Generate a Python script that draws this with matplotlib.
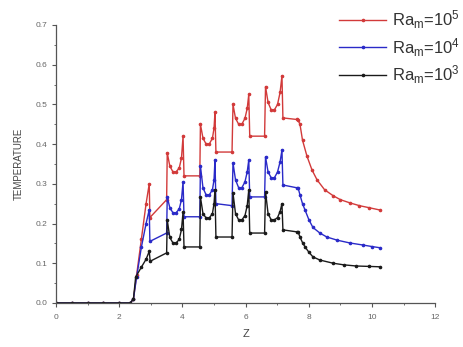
import numpy as np
import matplotlib
matplotlib.use('Agg')
import matplotlib.pyplot as plt
from matplotlib.ticker import MultipleLocator

plt.rcParams['font.family'] = ['Liberation Sans', 'DejaVu Sans']
plt.rcParams['mathtext.fontset'] = 'custom'
plt.rcParams['mathtext.rm'] = 'Liberation Sans'
plt.rcParams['mathtext.it'] = 'Liberation Sans'

# values (Z, temperature)
z_red = [0, 0.5, 1.0, 1.5, 2.0, 2.35, 2.45, 2.55, 2.7, 2.85, 2.95,
         2.97, 3.5,
         3.52, 3.6, 3.7, 3.8, 3.9, 3.97, 4.02,
         4.05, 4.55,
         4.57, 4.65, 4.75, 4.85, 4.95, 5.0, 5.03,
         5.06, 5.57,
         5.6, 5.68, 5.78, 5.88, 5.98, 6.05, 6.1,
         6.13, 6.6,
         6.63, 6.71, 6.81, 6.91, 7.01, 7.09, 7.15,
         7.18, 7.62, 7.66, 7.72, 7.8, 7.94, 8.1, 8.26, 8.5, 8.77, 9.0, 9.3, 9.6, 9.9, 10.25]
t_red = [0, 0, 0, 0, 0, 0, 0.01, 0.07, 0.16, 0.25, 0.30,
         0.215, 0.26,
         0.378, 0.345, 0.33, 0.33, 0.34, 0.365, 0.42,
         0.32, 0.32,
         0.45, 0.415, 0.40, 0.40, 0.415, 0.44, 0.48,
         0.38, 0.38,
         0.50, 0.465, 0.45, 0.45, 0.465, 0.49, 0.525,
         0.42, 0.42,
         0.545, 0.505, 0.486, 0.486, 0.50, 0.53, 0.572,
         0.466, 0.462, 0.46, 0.45, 0.41, 0.37, 0.335, 0.31, 0.285, 0.27, 0.26, 0.252, 0.245, 0.24, 0.234]

z_blue = [0, 0.5, 1.0, 1.5, 2.0, 2.35, 2.45, 2.55, 2.7, 2.85, 2.95,
          2.97, 3.5,
          3.52, 3.6, 3.7, 3.8, 3.9, 3.97, 4.02,
          4.05, 4.55,
          4.57, 4.65, 4.75, 4.85, 4.95, 5.0, 5.03,
          5.06, 5.57,
          5.6, 5.68, 5.78, 5.88, 5.98, 6.05, 6.1,
          6.13, 6.6,
          6.63, 6.71, 6.81, 6.91, 7.01, 7.09, 7.15,
          7.18, 7.62, 7.66, 7.72, 7.8, 7.88, 8.0, 8.13, 8.35, 8.57, 8.9, 9.3, 9.7, 10.0, 10.25]
t_blue = [0, 0, 0, 0, 0, 0, 0.01, 0.065, 0.14, 0.20, 0.235,
          0.155, 0.176,
          0.267, 0.24, 0.227, 0.227, 0.237, 0.26, 0.305,
          0.217, 0.217,
          0.345, 0.29, 0.272, 0.272, 0.285, 0.31, 0.36,
          0.25, 0.245,
          0.353, 0.31, 0.29, 0.29, 0.305, 0.33, 0.36,
          0.267, 0.267,
          0.368, 0.33, 0.315, 0.315, 0.33, 0.355, 0.385,
          0.297, 0.29, 0.29, 0.272, 0.25, 0.234, 0.21, 0.19, 0.176, 0.166, 0.158, 0.151, 0.146, 0.142, 0.139]

z_black = [0, 0.5, 1.0, 1.5, 2.0, 2.35, 2.45, 2.52, 2.7, 2.85, 2.95,
           2.98, 3.5,
           3.52, 3.6, 3.7, 3.8, 3.9, 3.97, 4.02,
           4.05, 4.55,
           4.57, 4.65, 4.75, 4.85, 4.95, 5.0, 5.03,
           5.06, 5.57,
           5.6, 5.68, 5.78, 5.88, 5.98, 6.05, 6.1,
           6.13, 6.6,
           6.63, 6.71, 6.81, 6.91, 7.01, 7.09, 7.15,
           7.18, 7.62, 7.66, 7.72, 7.8, 7.88, 8.0, 8.13, 8.35, 8.77, 9.1, 9.5, 9.9, 10.25]
t_black = [0, 0, 0, 0, 0, 0, 0.01, 0.065, 0.09, 0.11, 0.13,
           0.105, 0.126,
           0.209, 0.165, 0.151, 0.151, 0.16, 0.185, 0.229,
           0.141, 0.141,
           0.267, 0.225, 0.214, 0.214, 0.225, 0.25, 0.285,
           0.166, 0.166,
           0.277, 0.225, 0.209, 0.209, 0.22, 0.245, 0.285,
           0.176, 0.176,
           0.28, 0.225, 0.209, 0.209, 0.215, 0.23, 0.25,
           0.184, 0.179, 0.179, 0.166, 0.152, 0.141, 0.128, 0.116, 0.108, 0.1, 0.096, 0.093, 0.092, 0.091]

labels = [r'Ra$_\mathregular{m}$=10$^\mathregular{5}$',
          r'Ra$_\mathregular{m}$=10$^\mathregular{4}$',
          r'Ra$_\mathregular{m}$=10$^\mathregular{3}$']
colors = ['#d23a3a', '#2a2ac8', '#1a1a1a']
xticks = [0, 2, 4, 6, 8, 10, 12]
yticks = [0.0, 0.1, 0.2, 0.3, 0.4, 0.5, 0.6, 0.7]

fig = plt.figure(figsize=(4.63, 3.47), dpi=100)
ax = fig.add_axes([0.121, 0.127, 0.819, 0.801])

series = [(z_red, t_red), (z_blue, t_blue), (z_black, t_black)]
for (zz, tt), c, lab in zip(series, colors, labels):
    ax.plot(zz, tt, color=c, lw=1.0, marker='o', ms=1.6, mec=c, mfc=c, label=lab)

ax.set_xlim(0, 12)
ax.set_ylim(0, 0.7)
ax.set_xticks(xticks)
ax.set_xticklabels([str(v) for v in xticks], fontsize=6, color='#666666')
ax.set_yticks(yticks)
ax.set_yticklabels(['%.1f' % v for v in yticks], fontsize=6, color='#666666')
ax.xaxis.set_minor_locator(MultipleLocator(1))
ax.yaxis.set_minor_locator(MultipleLocator(0.05))
ax.tick_params(which='major', length=3, width=0.8, color='#555555', pad=3)
ax.tick_params(which='minor', length=1.5, width=0.6, color='#555555')
ax.tick_params(axis='x', which='major', pad=5)
for s in ['top', 'right']:
    ax.spines[s].set_visible(False)
for s in ['left', 'bottom']:
    ax.spines[s].set_color('#555555')
    ax.spines[s].set_linewidth(0.9)

ax.set_xlabel('Z', fontsize=8, color='#444444', labelpad=6)
ax.set_ylabel('TEMPERATURE', fontsize=7, color='#444444', labelpad=9)

leg = fig.legend(loc='upper left', bbox_to_anchor=(0.715, 1.0), frameon=False,
                 fontsize=12, handlelength=2.8, handletextpad=0.35,
                 labelspacing=0.3, borderaxespad=0.2, borderpad=0.3)
for t in leg.get_texts():
    t.set_color('#333333')

fig.savefig('out.png', dpi=100)
